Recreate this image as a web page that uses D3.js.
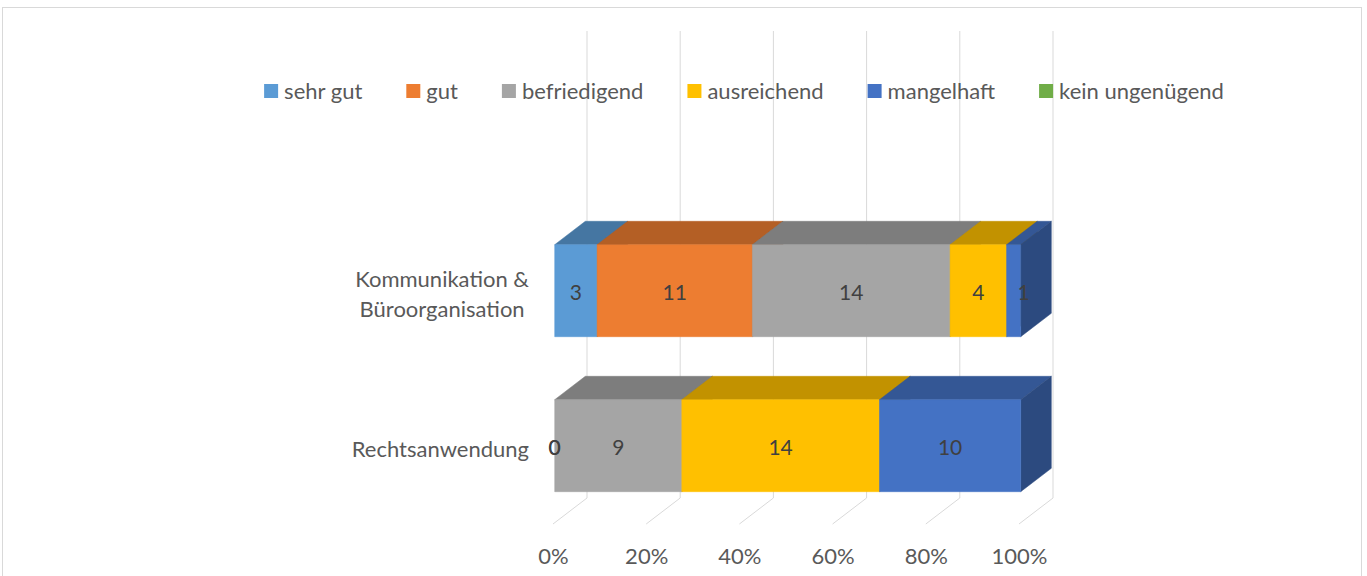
<!DOCTYPE html>
<html>
<head>
<meta charset="utf-8">
<script src="https://cdn.jsdelivr.net/npm/d3@7"></script>
<style>
  body { margin: 0; background: #fff; }
  svg text { font-family: Lato, "Open Sans", sans-serif; fill: #595959; }
</style>
</head>
<body>
<div class="wrapper"></div>
<script>

var width = 1367,
    height = 576;

// data
var categories = ["Kommunikation & Büroorganisation", "Rechtsanwendung"];
var categoryLines = [["Kommunikation &", "Büroorganisation"], ["Rechtsanwendung"]];
var seriesNames = ["sehr gut", "gut", "befriedigend", "ausreichend", "mangelhaft", "kein ungenügend"];
var sehrGut = [3, 0];
var gut = [11, 0];
var befriedigend = [14, 9];
var ausreichend = [4, 14];
var mangelhaft = [1, 10];
var keinUngenuegend = [null, null];
var tickValues = [0, 0.2, 0.4, 0.6, 0.8, 1];

var seriesValues = [sehrGut, gut, befriedigend, ausreichend, mangelhaft, keinUngenuegend];
var colors = ["#5B9BD5", "#ED7D31", "#A5A5A5", "#FFC000", "#4472C4", "#70AD47"];

var table = categories.map(function(c, i) {
  var row = { category: c };
  seriesNames.forEach(function(s, j) { row[s] = seriesValues[j][i] || 0; });
  return row;
});

var stack = d3.stack().keys(seriesNames).offset(d3.stackOffsetExpand);
var layers = stack(table);

// 3d projection: depth vector for the full floor
var depthX = 34, depthY = -26;
var zFront = 0.05, zBack = 0.95;

var x = d3.scaleLinear().domain([0, 1]).range([553, 1019]);
var y = d3.scaleBand().domain(categories).range([215, 524])
    .paddingInner(0.406).paddingOuter(0.2);
var floorY = 524, wallTop = 31;

function shade(c, f) {
  var r = d3.rgb(c);
  return d3.rgb(r.r * f, r.g * f, r.b * f).toString();
}
function pt(px, py, z) { return [px + z * depthX, py + z * depthY]; }
function poly(pts) { return pts.map(function(p) { return p[0].toFixed(1) + "," + p[1].toFixed(1); }).join(" "); }

var svg = d3.select(".wrapper").append("svg")
    .attr("width", width)
    .attr("height", height);

// chart frame
svg.append("rect")
    .attr("x", 2.5).attr("y", 7.5)
    .attr("width", 1359).attr("height", 620)
    .attr("fill", "#fff").attr("stroke", "#d9d9d9");

// back wall gridlines and floor lines
var grid = svg.append("g").attr("stroke", "#d9d9d9").attr("fill", "none");
tickValues.forEach(function(t) {
  var bx = x(t) + depthX;
  grid.append("line").attr("x1", bx).attr("x2", bx)
      .attr("y1", wallTop).attr("y2", floorY + depthY);
  grid.append("line").attr("x1", bx).attr("y1", floorY + depthY)
      .attr("x2", x(t)).attr("y2", floorY);
});

// bars
var bars = svg.append("g");
categories.forEach(function(c, ci) {
  var y0 = y(c), y1 = y(c) + y.bandwidth();
  layers.forEach(function(layer, si) {
    var d = layer[ci];
    var xa = x(d[0]), xb = x(d[1]);
    if (xb - xa < 0.01) return;
    var col = colors[si];
    var fA = pt(xa, y0, zFront), fB = pt(xb, y0, zFront),
        fC = pt(xb, y1, zFront), fD = pt(xa, y1, zFront);
    var bA = pt(xa, y0, zBack), bB = pt(xb, y0, zBack), bC = pt(xb, y1, zBack);
    bars.append("polygon").attr("points", poly([fA, fB, bB, bA]))
        .attr("fill", shade(col, 0.76)).attr("stroke", shade(col, 0.76)).attr("stroke-width", 0.5);
    bars.append("polygon").attr("points", poly([fB, bB, bC, fC]))
        .attr("fill", shade(col, 0.65)).attr("stroke", shade(col, 0.65)).attr("stroke-width", 0.5);
    bars.append("polygon").attr("points", poly([fA, fB, fC, fD]))
        .attr("fill", col).attr("stroke", col).attr("stroke-width", 0.5);
  });
});

// data labels
var labels = svg.append("g").attr("text-anchor", "middle").style("font-size", "21px");
categories.forEach(function(c, ci) {
  layers.forEach(function(layer, si) {
    var v = seriesValues[si][ci];
    if (v === null || v === undefined) return;
    var d = layer[ci];
    var w = x(d[1]) - x(d[0]);
    var cx = (x(d[0]) + x(d[1])) / 2 + zFront * depthX + (w > 0 && w < 18 ? 10 : 0);
    labels.append("text")
        .attr("x", cx)
        .attr("y", y(c) + y.bandwidth() / 2 + zFront * depthY + 2)
        .attr("dy", "0.35em")
        .style("fill", "#404040")
        .text(v);
  });
});

// category labels
var catG = svg.append("g").style("font-size", "22px");
categories.forEach(function(c, ci) {
  var lines = categoryLines[ci];
  var lineH = 30;
  var cy = y(c) + y.bandwidth() / 2 + 2;
  var tmp = lines.map(function(l, li) {
    return catG.append("text")
        .attr("text-anchor", "middle")
        .attr("y", cy + (li - (lines.length - 1) / 2) * lineH)
        .attr("dy", "0.35em")
        .text(l);
  });
  var maxW = d3.max(tmp, function(t) { return t.node().getComputedTextLength(); });
  tmp.forEach(function(t) { t.attr("x", 529 - maxW / 2); });
});

// x axis
var axis = svg.append("g")
    .attr("transform", "translate(0," + 556 + ")")
    .call(d3.axisBottom(x).tickValues(tickValues).tickFormat(d3.format(".0%")).tickSize(0).tickPadding(0));
axis.select(".domain").remove();
axis.selectAll("text")
    .attr("y", 0).attr("dy", "0.35em")
    .style("font-size", "22px")
    .style("font-family", "Lato, 'Open Sans', sans-serif")
    .attr("fill", "#595959");

// legend
var legend = svg.append("g").style("font-size", "22px");
var items = seriesNames.map(function(s, i) {
  var g = legend.append("g");
  g.append("rect").attr("width", 14).attr("height", 14).attr("y", -7).attr("fill", colors[i]);
  var t = g.append("text").attr("x", 20).attr("dy", "0.35em").text(s);
  return { g: g, w: 20 + t.node().getComputedTextLength() };
});
var gap = 44;
var total = d3.sum(items, function(d) { return d.w; }) + gap * (items.length - 1);
var lx = 744 - total / 2;
items.forEach(function(it) {
  it.g.attr("transform", "translate(" + lx + ",91)");
  lx += it.w + gap;
});

</script>
</body>
</html>
